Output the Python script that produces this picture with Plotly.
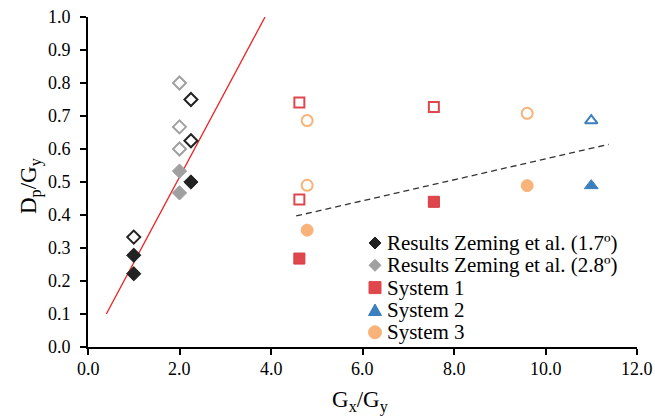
import plotly.graph_objects as go

# Zeming et al. (1.7º) - black diamonds
z17_fill_x = [1.0, 1.0, 2.25]
z17_fill_y = [0.278, 0.222, 0.5]
z17_open_x = [1.0, 2.25, 2.25]
z17_open_y = [0.333, 0.75, 0.625]

# Zeming et al. (2.8º) - gray diamonds
z28_fill_x = [2.0, 2.0]
z28_fill_y = [0.533, 0.467]
z28_open_x = [2.0, 2.0, 2.0]
z28_open_y = [0.8, 0.667, 0.6]

# System 1 - red squares
s1_fill_x = [4.62, 7.56]
s1_fill_y = [0.268, 0.44]
s1_open_x = [4.62, 4.62, 7.56]
s1_open_y = [0.741, 0.447, 0.727]

# System 2 - blue triangles
s2_fill_x = [11.0]
s2_fill_y = [0.489]
s2_open_x = [11.0]
s2_open_y = [0.686]

# System 3 - orange circles
s3_fill_x = [4.79, 9.6]
s3_fill_y = [0.354, 0.489]
s3_open_x = [4.79, 4.79, 9.6]
s3_open_y = [0.686, 0.49, 0.708]

# Trend lines
red_line_x = [0.4, 3.87]
red_line_y = [0.1, 1.0]
dash_line_x = [4.55, 11.38]
dash_line_y = [0.397, 0.614]

x_ticks = [0, 2, 4, 6, 8, 10, 12]
x_tick_labels = ["0.0", "2.0", "4.0", "6.0", "8.0", "10.0", "12.0"]
y_ticks = [0.0, 0.1, 0.2, 0.3, 0.4, 0.5, 0.6, 0.7, 0.8, 0.9, 1.0]
y_tick_labels = ["0.0", "0.1", "0.2", "0.3", "0.4", "0.5", "0.6", "0.7", "0.8", "0.9", "1.0"]

legend_names = ["Results Zeming et al. (1.7º)", "Results Zeming et al. (2.8º)",
                "System 1", "System 2", "System 3"]

BLACK = "#222222"
GRAY = "#a0a0a0"
RED = "#e0474c"
BLUE = "#3b7fbe"
ORANGE = "#f8b37a"

FONT = "Liberation Serif"
W, H = 655, 416
ML, MR, MT, MB = 88, 18, 17, 69
PW, PH = W - ML - MR, H - MT - MB

fig = go.Figure()

fig.add_trace(go.Scatter(x=red_line_x, y=red_line_y, mode="lines",
                         line=dict(color="#ee2222", width=1.3), showlegend=False))
fig.add_trace(go.Scatter(x=dash_line_x, y=dash_line_y, mode="lines",
                         line=dict(color="#333333", width=1.3, dash="6px,4px"), showlegend=False))


def add(fx, fy, ox, oy, sym, color, size, name, lcolor=None):
    fig.add_trace(go.Scatter(x=fx, y=fy, mode="markers", name=name, showlegend=False,
                             marker=dict(symbol=sym, size=size, color=color,
                                         line=dict(color=lcolor or color, width=1))))
    fig.add_trace(go.Scatter(x=ox, y=oy, mode="markers", showlegend=False,
                             marker=dict(symbol=sym + "-open", size=size - 1, color=color,
                                         line=dict(color=color, width=2))))


add(z17_fill_x, z17_fill_y, z17_open_x, z17_open_y, "diamond", BLACK, 11, legend_names[0])
add(z28_fill_x, z28_fill_y, z28_open_x, z28_open_y, "diamond", GRAY, 11, legend_names[1])
add(s1_fill_x, s1_fill_y, s1_open_x, s1_open_y, "square", RED, 11, legend_names[2], "#d63a40")
add(s2_fill_x, s2_fill_y, s2_open_x, s2_open_y, "triangle-up", BLUE, 12, legend_names[3])
add(s3_fill_x, s3_fill_y, s3_open_x, s3_open_y, "circle", ORANGE, 12, legend_names[4])


def px2paper(px, py):
    return (px - ML) / PW, (MT + PH - py) / PH


# Custom legend (symbols as pixel-sized shapes + text annotations)
leg_sym_x = 375
leg_text_x = 385
leg_rows_y = [243, 265.3, 287.6, 310, 332.3]
leg_styles = [("diamond", BLACK), ("diamond", GRAY), ("square", RED),
              ("triangle", BLUE), ("circle", ORANGE)]

shapes = []
annotations = []
for name, (kind, col), ry in zip(legend_names, leg_styles, leg_rows_y):
    ax, ay = px2paper(leg_sym_x, ry)
    common = dict(xref="paper", yref="paper", xsizemode="pixel", ysizemode="pixel",
                  xanchor=ax, yanchor=ay, fillcolor=col, line=dict(color=col, width=1))
    if kind == "diamond":
        shapes.append(dict(type="path", path="M -6 0 L 0 6 L 6 0 L 0 -6 Z", **common))
    elif kind == "square":
        shapes.append(dict(type="rect", x0=-6, x1=6, y0=-6, y1=6, **common))
    elif kind == "triangle":
        shapes.append(dict(type="path", path="M -6.5 -5.5 L 6.5 -5.5 L 0 6 Z", **common))
    else:
        shapes.append(dict(type="circle", x0=-6.5, x1=6.5, y0=-6.5, y1=6.5, **common))
    tx, ty = px2paper(leg_text_x, ry)
    annotations.append(dict(x=tx, y=ty, xref="paper", yref="paper", text=name,
                            showarrow=False, xanchor="left", yanchor="middle",
                            font=dict(family=FONT, size=21, color="black")))

# Tick labels (placed at the axes' tick values)
TICK_FONT = dict(family=FONT, size=18, color="black")
ylab_x, _ = px2paper(73, 0)
for v, t in zip(y_ticks, y_tick_labels):
    annotations.append(dict(x=ylab_x, y=v, xref="paper", yref="y", text=t,
                            showarrow=False, xanchor="right", yanchor="middle",
                            font=TICK_FONT))
_, xlab_y = px2paper(0, 369)
for v, t in zip(x_ticks, x_tick_labels):
    annotations.append(dict(x=v, y=xlab_y, xref="x", yref="paper", text=t,
                            showarrow=False, xanchor="center", yanchor="middle",
                            font=TICK_FONT))

# Axis titles
xt_x, xt_y = px2paper(360, 385)
annotations.append(dict(x=xt_x, y=xt_y, xref="paper", yref="paper",
                        text="G<sub>x</sub>/G<sub>y</sub>", showarrow=False,
                        xanchor="center", yanchor="top",
                        font=dict(family=FONT, size=23, color="black")))
yt_x, yt_y = px2paper(30, 186)
annotations.append(dict(x=yt_x, y=yt_y, xref="paper", yref="paper",
                        text="D<sub>p</sub>/G<sub>y</sub>", showarrow=False,
                        xanchor="center", yanchor="middle", textangle=-90,
                        font=dict(family=FONT, size=23, color="black")))

fig.update_layout(
    width=W, height=H,
    margin=dict(l=ML, r=MR, t=MT, b=MB, autoexpand=False),
    plot_bgcolor="white", paper_bgcolor="white",
    font=dict(family=FONT, size=16, color="black"),
    showlegend=False,
    shapes=shapes,
    annotations=annotations,
    xaxis=dict(range=[0, 12], tickvals=x_ticks, showticklabels=False,
               showline=True, linecolor="black", linewidth=1.5,
               ticks="outside", ticklen=6, tickcolor="black", tickwidth=1.5,
               showgrid=False, zeroline=False, automargin=False),
    yaxis=dict(range=[0, 1.0], tickvals=y_ticks, showticklabels=False,
               showline=True, linecolor="black", linewidth=1.5,
               ticks="outside", ticklen=6, tickcolor="black", tickwidth=1.5,
               showgrid=False, zeroline=False, automargin=False),
)

fig.write_html("out.html", config={"displayModeBar": False},
               post_script="document.body.style.margin='0';document.body.style.overflow='hidden';")
